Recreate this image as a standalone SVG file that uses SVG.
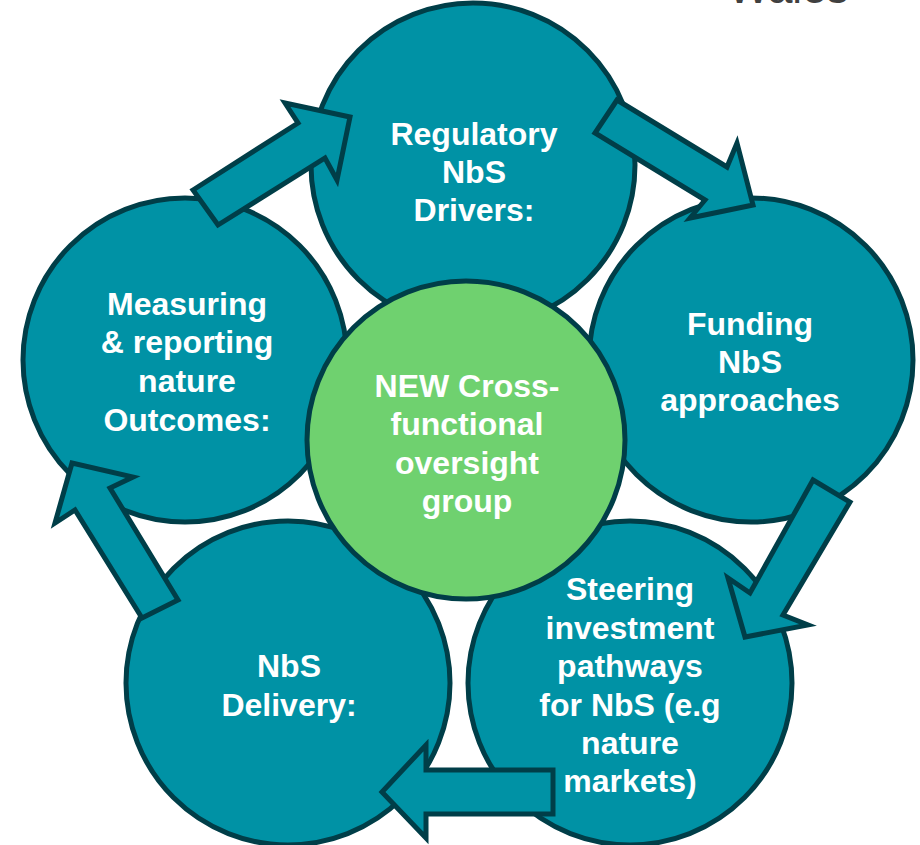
<svg xmlns="http://www.w3.org/2000/svg" width="920" height="845" viewBox="0 0 920 845">
<style>
.node{fill:#0092A5;stroke:#003E48;stroke-width:5}
.hub{fill:#6FD16F;stroke:#003E48;stroke-width:5}
.arr{fill:#0092A5;stroke:#003E48;stroke-width:5;stroke-linejoin:miter}
.lbl{font-family:"Liberation Sans",Arial,sans-serif;font-size:32px;font-weight:bold;fill:#ffffff;text-anchor:middle}
.logo{font-family:"Liberation Sans",Arial,sans-serif;font-size:44px;fill:#404040}
</style>
<rect width="920" height="845" fill="#ffffff"/>
<text class="logo" x="728" y="3">Wales</text>
<g id="node-regulatory">
<circle class="node" cx="473" cy="165" r="162"/>
<text class="lbl" x="474" y="145">Regulatory</text>
<text class="lbl" x="474" y="183">NbS</text>
<text class="lbl" x="474" y="221">Drivers:</text>
</g>
<g id="node-funding">
<circle class="node" cx="751" cy="360" r="162"/>
<text class="lbl" x="750" y="335">Funding</text>
<text class="lbl" x="750" y="373">NbS</text>
<text class="lbl" x="750" y="411">approaches</text>
</g>
<g id="node-steering">
<circle class="node" cx="630" cy="683" r="162"/>
<text class="lbl" x="630" y="600">Steering</text>
<text class="lbl" x="630" y="639">investment</text>
<text class="lbl" x="630" y="677">pathways</text>
<text class="lbl" x="630" y="716">for NbS (e.g</text>
<text class="lbl" x="630" y="754">nature</text>
<text class="lbl" x="630" y="792">markets)</text>
</g>
<g id="node-delivery">
<circle class="node" cx="288" cy="683" r="162"/>
<text class="lbl" x="289" y="677">NbS</text>
<text class="lbl" x="289" y="716">Delivery:</text>
</g>
<g id="node-measuring">
<circle class="node" cx="185" cy="360" r="162"/>
<text class="lbl" x="187" y="315">Measuring</text>
<text class="lbl" x="187" y="353">&amp; reporting</text>
<text class="lbl" x="187" y="392">nature</text>
<text class="lbl" x="187" y="431">Outcomes:</text>
</g>
<g id="node-center">
<circle class="hub" cx="466" cy="440" r="159"/>
<text class="lbl" x="467" y="397">NEW Cross-</text>
<text class="lbl" x="467" y="435">functional</text>
<text class="lbl" x="467" y="474">oversight</text>
<text class="lbl" x="467" y="512">group</text>
</g>
<g id="connectors">
<polygon class="arr" points="193,190 298,123 285,103 350,117 337,180 325,158 218,225"/>
<polygon class="arr" points="617,100 727,167 737,143 753,205 690,218 705,200 595,133"/>
<polygon class="arr" points="813,480 850,502 783,615 808,625 745,637 728,578 750,593"/>
<polygon class="arr" points="553,770 426,770 426,745 382,792 426,838 426,814 553,814"/>
<polygon class="arr" points="142,618 75,510 55,523 72,463 133,477 110,488 178,600"/>
</g>
</svg>
